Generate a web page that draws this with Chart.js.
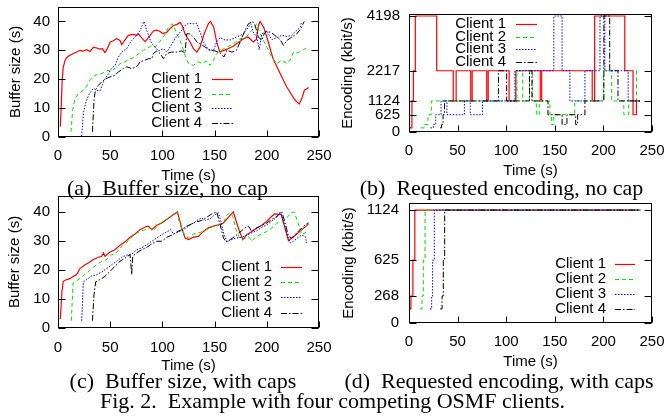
<!DOCTYPE html>
<html lang="en">
<head>
<meta charset="UTF-8">
<title>OSMF clients</title>
<script src="https://cdn.jsdelivr.net/npm/chart.js@4.4.1/dist/chart.umd.min.js"></script>
<style>
  body { margin: 0; background: #fff; }
  #fig { position: relative; width: 667px; height: 418px; overflow: hidden; }
  canvas { position: absolute; }
  .cap { position: absolute; white-space: nowrap; transform: translateX(-50%);
         font-family: "Liberation Serif", "Times New Roman", serif; font-size: 22px; line-height: 1; color: #000; }
</style>
</head>
<body>
<div id="fig">
  <canvas id="panelA" width="345" height="185" style="left:0px; top:0px"></canvas>
  <canvas id="panelC" width="345" height="185" style="left:0px; top:190px"></canvas>
  <canvas id="panelB" width="337" height="180" style="left:330px; top:0px"></canvas>
  <canvas id="panelD" width="337" height="176" style="left:330px; top:195px"></canvas>
  <div class="cap" style="left:167.5px; top:176.6px">(a)&nbsp; Buffer size, no cap</div>
  <div class="cap" style="left:501.5px; top:176.6px">(b)&nbsp; Requested encoding, no cap</div>
  <div class="cap" style="left:183px; top:369.6px">(c)&nbsp; Buffer size, with caps</div>
  <div class="cap" style="left:499px; top:369.6px">(d)&nbsp; Requested encoding, with caps</div>
  <div class="cap" style="left:332.5px; top:389.9px">Fig. 2.&nbsp; Example with four competing OSMF clients.</div>
</div>

<script>
// axis ticks
const timeTicks = [0, 50, 100, 150, 200, 250];
const bufTicks = [0, 10, 20, 30, 40];
const encNoCapTicks = [0, 625, 1124, 2217, 4198];
const encCapTicks = [0, 268, 625, 1124];
const clientNames = ['Client 1', 'Client 2', 'Client 3', 'Client 4'];

// (a) buffer size, no cap: [time s, buffer s]
const bufNoCap1 = [[2.2,3.6],[3,10],[4,19.7],[5,24],[6.7,26.5],[8,27.3],[10,28],[12,28.4],[14.7,28.9],[18,29.4],[21,30],[24,29.7],[27.5,30.2],[30.7,29.6],[34,31.1],[37,30.8],[40,30.4],[42.5,30.6],[45,29.2],[47,30.4],[50,32.9],[53,33.3],[56,34],[59.4,33.4],[61,32],[64,33.5],[67.4,35.2],[72,35.5],[75.4,35.2],[77,35.7],[80,34.4],[83.4,33],[87,34.6],[91.4,36.7],[94.6,37],[97.5,36.6],[100,35.9],[104,36.1],[106,37],[110.5,38.6],[114,39],[117,39.7],[119,38.5],[121.7,35.7],[126.5,32.9],[129.7,30.6],[133,29.4],[136,31.1],[140,35.7],[144,39.2],[146,40],[149,38.2],[152,32.9],[155,29.4],[159,30],[162,30.4],[165,31],[168,31.4],[171,32.3],[174.5,33.1],[177.6,34],[182,34.6],[187,32.9],[190,33.8],[192,38.6],[193.6,40],[197,38],[200,34.6],[206,27.1],[212.8,22],[219,17.4],[227,12.8],[231,11.4],[233.5,13.3],[236,16.2],[240,17.1]];
const bufNoCap2 = [[12.5,1.8],[14,9.3],[16.3,13.3],[19.5,15],[22,15.6],[24.3,16.2],[28,17.9],[30.7,19.7],[33,20.5],[35.5,21.4],[40,21.7],[45,22.5],[48,23.1],[51,22.8],[54.6,23.7],[59.4,25.4],[64,26],[69,27.1],[72,27.4],[75.4,28.3],[78,29],[81.8,30],[85,30.6],[89.8,31.7],[93,31.1],[96,32.3],[101,34.6],[103.5,36.3],[105.8,38],[109,39.2],[110.5,38.7],[113.7,35.7],[117,33.4],[121.7,28.3],[125,25.4],[129.7,24.8],[134.5,26],[137.7,25.4],[142.5,26.3],[145.7,24.8],[148.9,26.6],[152,28.9],[157,30.2],[161.7,31.1],[168,32.3],[174.4,34],[180.8,34.8],[185.6,36.9],[188.8,38.6],[190.4,39.2],[193,36.3],[196.8,33.4],[200,31.1],[204.8,27.6],[209.6,25.4],[214.4,26.6],[219.2,25.4],[222.4,26.6],[225.6,29.4],[228.8,29.1],[233.5,29.8],[236.7,30.6],[240,31.1]];
const bufNoCap3 = [[22.7,0.3],[24.3,8.2],[26.8,12.2],[30,15],[33.9,16.8],[37,16.2],[40.3,16],[43.5,19.1],[47.3,21.4],[51.4,23.7],[54.6,24.8],[57.8,27.7],[61,29.4],[65.8,30.6],[70.6,33.4],[75.4,35.2],[78.6,36.9],[82.4,40],[85,36.9],[89.8,32.3],[93,31.1],[96.2,29.8],[101,30.6],[104.2,29.4],[107.3,31.1],[112,34],[117,36.3],[121.7,38.6],[125,39.4],[129.7,39.2],[133,39.4],[136,36.3],[139.3,32.9],[144,30.2],[149,30],[152,32.9],[155.3,34.4],[160,33.6],[165,33.6],[171,34.6],[177.6,35.7],[182.4,38],[184.7,39.2],[187,36.3],[190.4,34.6],[192.7,30.2],[195.2,35.7],[200,36.7],[204.8,33.7],[209.6,34.4],[214.4,35.2],[219.2,34.8],[224,35.2],[228.8,36.9],[232,38],[233.5,40]];
const bufNoCap4 = [[33,1.8],[34.5,12.8],[35.8,16.2],[38.7,17.9],[41.9,19.1],[45,20],[49.8,20.8],[54.6,21.4],[57.8,22.5],[62.6,23.7],[65.8,24.3],[70.6,23.7],[75.4,24.3],[78.6,26],[83.4,26.6],[86.6,27.1],[89.8,27.1],[91.4,28.9],[94.6,29.8],[97.8,28.9],[101,27.1],[104.2,28.9],[109,29.4],[113.7,29.4],[118.5,29.8],[121.7,29.1],[123.3,35.7],[126.5,35.7],[129.7,34.6],[133,32.9],[136,32.3],[141,31.1],[145.7,30],[150.5,29.8],[155.3,29.1],[159,27.7],[161.7,30],[166.5,29.4],[171,30],[174.4,32.9],[179.2,36.9],[182.4,39.2],[186.3,40],[188.8,38.6],[192,34.6],[195.2,33.4],[197.4,35.7],[200,36.7],[204.8,36],[209.6,34.6],[212.8,33.7],[216,31.7],[219.2,33.4],[224,34.6],[228.8,35.7],[233.5,38],[235.8,40]];

// (c) buffer size, with caps
const bufCap1 = [[2.2,3],[3.8,12.6],[5.1,16.1],[8.3,16.7],[11.5,17],[14.7,17.8],[17.9,18.4],[21,20.5],[25.9,21.8],[29,22.4],[33.9,23.6],[38.7,24.4],[41.9,24.7],[43.5,25.9],[45,24.7],[49.8,26.2],[54.6,27],[59.4,28.5],[64.2,29.7],[69,31.3],[73.8,32.4],[78.6,33.9],[83.4,34.8],[86.6,35.1],[89.8,33.9],[94.6,35.4],[99.4,36.2],[104,37.4],[109,38.7],[114.4,40],[118.5,34.5],[121.7,31],[125,30.5],[129.7,31.3],[134.5,31.6],[139.3,33.3],[144,34.5],[148.9,35.1],[153.7,35.6],[158.5,36.2],[163.3,38.2],[168,40],[171.2,36.2],[174.4,32.8],[177,30.5],[180.8,32.2],[185.6,33.3],[190.4,34.5],[195.2,35.4],[200,36.8],[204.8,38.5],[208,39.4],[211.2,39.1],[213.7,39.3],[216.6,35.6],[220.8,30.1],[224,31],[228.8,32.4],[233.5,33.9],[238.3,35.3],[240,35.9]];
const bufCap2 = [[12.8,2.5],[14.4,15.5],[17.9,16.3],[22.7,17.5],[27.5,19],[32.3,20.5],[37,21.8],[41.9,23],[46.6,23.6],[51.4,25.3],[54.6,25.3],[59.4,27.6],[64.2,29],[69,30.8],[73.8,32.4],[78.6,33.3],[83.4,33.9],[88.2,34.5],[91.4,33.6],[96.2,35.6],[101,36.8],[105.8,37.9],[110.5,39.3],[113.7,40],[117,35.6],[121.7,31.6],[125,31],[129.7,32.4],[134.5,32.8],[139.3,33.3],[144,34.3],[148.9,35.1],[153.7,35.4],[158.5,36.2],[161.7,38.9],[164.9,39.7],[167.4,38.5],[170.6,33.9],[173.8,31],[177.6,30.5],[182.4,31.6],[185.6,29.9],[190.4,31.6],[195.2,32.4],[200,33.3],[204.8,34.5],[209.6,36.2],[214.4,36.5],[219.2,37.9],[223,39.7],[226.2,40],[229.4,36.8],[233.5,32.2],[236.7,32.8],[240,33.9]];
const bufCap3 = [[22.7,2.5],[24.3,15.9],[27.5,16.7],[32.3,18],[37,18.4],[41.9,19.3],[46.6,20.5],[51.4,21.8],[56.2,23],[61,24.4],[65.8,25.1],[70.6,25.5],[75.4,27],[80.2,27.6],[85,28.7],[89.8,29.9],[94.6,31],[99.4,32.2],[104.2,33.1],[108,33.9],[110.5,32.4],[115.3,33.1],[120,33.9],[125,35.1],[129.7,36.2],[134.5,37.4],[137.7,37.9],[140.9,37.1],[145.7,37.7],[150.5,39.1],[153.7,39.7],[156,36.8],[159,32.2],[161.7,29.7],[166.5,30.5],[171.2,31],[176,31.3],[180.8,32],[185.6,32.8],[190.4,33.6],[195.2,34.7],[200,35.6],[204.8,36.8],[209.6,38.2],[212.8,40],[215.3,37.4],[219.2,32.4],[222.4,29.3],[225.6,29.9],[230.4,31.3],[233.5,32],[236.7,31.6],[238.3,29.3]];
const bufCap4 = [[33,2.5],[34.5,11.5],[36.1,15.9],[40.3,16.7],[45,17.8],[49.8,19.5],[54.6,21.3],[59.4,23],[64.2,24.1],[69,25.3],[70.6,18.4],[71.6,24.7],[75.4,25.9],[80.2,27],[85,27.8],[89.8,29],[94.6,29.9],[99.4,29.9],[104.2,31.3],[109,32],[113.7,33.1],[118.5,33.9],[123.3,35.1],[128.1,35.9],[133,36.6],[137.7,37.1],[142.5,38.2],[147.3,39.3],[152,40],[155.3,35.6],[158.5,31],[161,29.7],[165,30.5],[169.6,31.6],[174.4,33.1],[179.2,34.5],[182.4,35.1],[185.6,33.3],[190.4,34.5],[195.2,35.4],[200,36.2],[204.8,37.4],[209.6,38.5],[214.4,40],[217.6,36.2],[220.8,31.6],[224,31],[228.8,32.8],[233.5,34.5],[238.3,35.9],[240,36.2]];

// (b) requested encoding, no cap: [time s, kbit/s] held until next change
const encNoCap1 = [[1,150],[3,1124],[4.5,2217],[6.5,4198],[28.5,2217],[45.5,1124],[48.5,2217],[63.5,1124],[65,2217],[80,1124],[81.5,2217],[103,1124],[110,2217],[135,1124],[136.5,2217],[188.5,1124],[191,4198],[222,2217],[230.5,625],[234,1124],[237.5,1124]];
const encNoCap2 = [[12,150],[16,268],[19.5,625],[23,1124],[111,2217],[117,1124],[124,2217],[127,1124],[131,625],[134,1124],[145,625],[146.5,268],[149,625],[170.5,1124],[200,2217],[208.5,1124],[221,625],[226,1124],[234,2217],[237.5,2217]];
const encNoCap3 = [[22,150],[25,268],[27.5,625],[33,1124],[39,625],[57,1124],[63,625],[75.5,1124],[109,2217],[149,4198],[157.5,2217],[165.5,1124],[181,2217],[196.5,4198],[201.5,2217],[225.5,1124],[237.5,1124]];
const encNoCap4 = [[32,150],[33.5,268],[35,625],[36.5,1124],[92,2217],[100.5,1124],[124,2217],[126.5,1124],[143,625],[157.5,268],[162.5,625],[171.5,268],[173.5,625],[181,1124],[200.5,4198],[206.5,2217],[215,1124],[237.5,1124]];

// (d) requested encoding, with caps
const encCap1 = [[1,140],[2,268],[4,625],[6,1124],[238,1124]];
const encCap2 = [[11.3,140],[13.4,268],[14.7,625],[16.5,1124],[238,1124]];
const encCap3 = [[21.6,140],[23.3,268],[24.3,625],[26,1124],[238,1124]];
const encCap4 = [[32,140],[34,268],[35.3,625],[36.7,1124],[238,1124]];

const clientColors = ['#ff0000', '#00dd00', '#0000ff', '#000000'];
const clientDash = [[], [4, 3], [1.5, 1.5], [6, 2, 1.5, 2]];

Chart.defaults.font.family = '"Liberation Sans", Arial, Helvetica, sans-serif';
Chart.defaults.font.size = 15;
Chart.defaults.color = '#000';

// gnuplot-like border with inward ticks
const frame = {
    id: 'frame',
    afterDatasetsDraw(chart) {
        const { ctx, chartArea: a, scales } = chart;
        const L = Math.round(a.left) + 0.5, R = Math.round(a.right) - 0.5;
        const T = Math.round(a.top) + 0.5, B = Math.round(a.bottom) - 0.5;
        ctx.save();
        ctx.strokeStyle = '#000';
        ctx.lineWidth = 1;
        ctx.setLineDash([]);
        ctx.beginPath();
        scales.x.ticks.forEach(t => {
            const px = Math.round(scales.x.getPixelForValue(t.value)) + 0.5;
            ctx.moveTo(px, B); ctx.lineTo(px, B - 6);
        });
        scales.y.ticks.forEach(t => {
            const py = Math.round(scales.y.getPixelForValue(t.value)) + 0.5;
            ctx.moveTo(L, py); ctx.lineTo(L + 7, py);
            ctx.moveTo(R, py); ctx.lineTo(R - 7, py);
        });
        ctx.stroke();
        ctx.strokeRect(L, T, R - L, B - T);
        ctx.restore();
    }
};

// key: text then line sample, like gnuplot
const key = {
    id: 'key',
    afterDraw(chart, args, o) {
        const ctx = chart.ctx;
        ctx.save();
        ctx.font = '15px "Liberation Sans", Arial, sans-serif';
        ctx.textAlign = 'right';
        ctx.textBaseline = 'middle';
        chart.data.datasets.forEach((ds, i) => {
            const y = o.rows[i];
            ctx.fillStyle = '#000';
            ctx.fillText(ds.label, o.right, y);
            ctx.strokeStyle = ds.borderColor;
            ctx.lineWidth = ds.borderWidth;
            ctx.setLineDash(ds.borderDash);
            ctx.beginPath();
            ctx.moveTo(o.x1, Math.round(y) + 0.5);
            ctx.lineTo(o.x2, Math.round(y) + 0.5);
            ctx.stroke();
        });
        ctx.restore();
    }
};

function panel(id, series, c) {
    new Chart(document.getElementById(id), {
        type: 'line',
        data: {
            datasets: series.map((pts, i) => ({
                label: clientNames[i],
                data: pts.map(p => ({ x: p[0], y: p[1] })),
                borderColor: clientColors[i],
                borderDash: clientDash[i],
                borderWidth: i === 0 ? 1.2 : 1,
                pointRadius: 0,
                stepped: c.stepped,
                tension: 0,
                fill: false,
                order: series.length - 1 - i   // later clients on top, as gnuplot draws them
            }))
        },
        options: {
            responsive: false,
            animation: false,
            events: [],
            layout: { padding: { left: 0, top: c.top, right: c.right, bottom: 0 } },
            plugins: { legend: { display: false }, tooltip: { enabled: false }, key: c.key },
            scales: {
                x: {
                    type: 'linear', min: 0, max: 250,
                    grid: { display: false, drawTicks: false },
                    border: { display: false },
                    ticks: { padding: c.xPad, autoSkip: false, maxRotation: 0, callback: v => String(v) },
                    title: { display: true, text: 'Time (s)', padding: 0 },
                    afterBuildTicks: s => { s.ticks = timeTicks.map(v => ({ value: v })); },
                    afterFit: s => { s.height = c.xH; s.paddingLeft = 0; s.paddingRight = 0; }
                },
                y: {
                    type: 'linear', min: 0, max: c.yMax,
                    grid: { display: false, drawTicks: false },
                    border: { display: false },
                    ticks: { padding: c.yPad, autoSkip: false, callback: v => String(v) },
                    title: { display: true, text: c.yTitle, padding: { top: c.yTitlePad, bottom: 0 } },
                    afterBuildTicks: s => { s.ticks = c.yTicks.map(v => ({ value: v })); },
                    afterFit: s => { s.width = c.yW; s.paddingTop = 0; s.paddingBottom = 0; }
                }
            }
        },
        plugins: [frame, key]
    });
}

panel('panelA', [bufNoCap1, bufNoCap2, bufNoCap3, bufNoCap4], {
    stepped: false, top: 7, right: 26, yW: 58, xH: 48, xPad: 9.5, yPad: 8, yTitlePad: 7,
    yMax: 45, yTicks: bufTicks, yTitle: 'Buffer size (s)',
    key: { right: 202, x1: 212, x2: 233, rows: [79, 93.5, 108, 122.5] }
});
panel('panelB', [encNoCap1, encNoCap2, encNoCap3, encNoCap4], {
    stepped: true, top: 14, right: 15, yW: 79, xH: 48, xPad: 10, yPad: 9, yTitlePad: 9,
    yMax: 4270, yTicks: encNoCapTicks, yTitle: 'Encoding (kbit/s)',
    key: { right: 176, x1: 186, x2: 207, rows: [24, 36.5, 49, 61.5] }
});
panel('panelC', [bufCap1, bufCap2, bufCap3, bufCap4], {
    stepped: false, top: 6, right: 26, yW: 58, xH: 47, xPad: 10.5, yPad: 8, yTitlePad: 6,
    yMax: 45.5, yTicks: bufTicks, yTitle: 'Buffer size (s)',
    key: { right: 272, x1: 281, x2: 302, rows: [77.3, 92.3, 107.3, 122.7] }
});
panel('panelD', [encCap1, encCap2, encCap3, encCap4], {
    stepped: true, top: 8, right: 15, yW: 79, xH: 48, xPad: 10, yPad: 10, yTitlePad: 10,
    yMax: 1194, yTicks: encCapTicks, yTitle: 'Encoding (kbit/s)',
    key: { right: 276, x1: 285, x2: 305, rows: [69, 84, 99, 114] }
});
</script>
</body>
</html>
